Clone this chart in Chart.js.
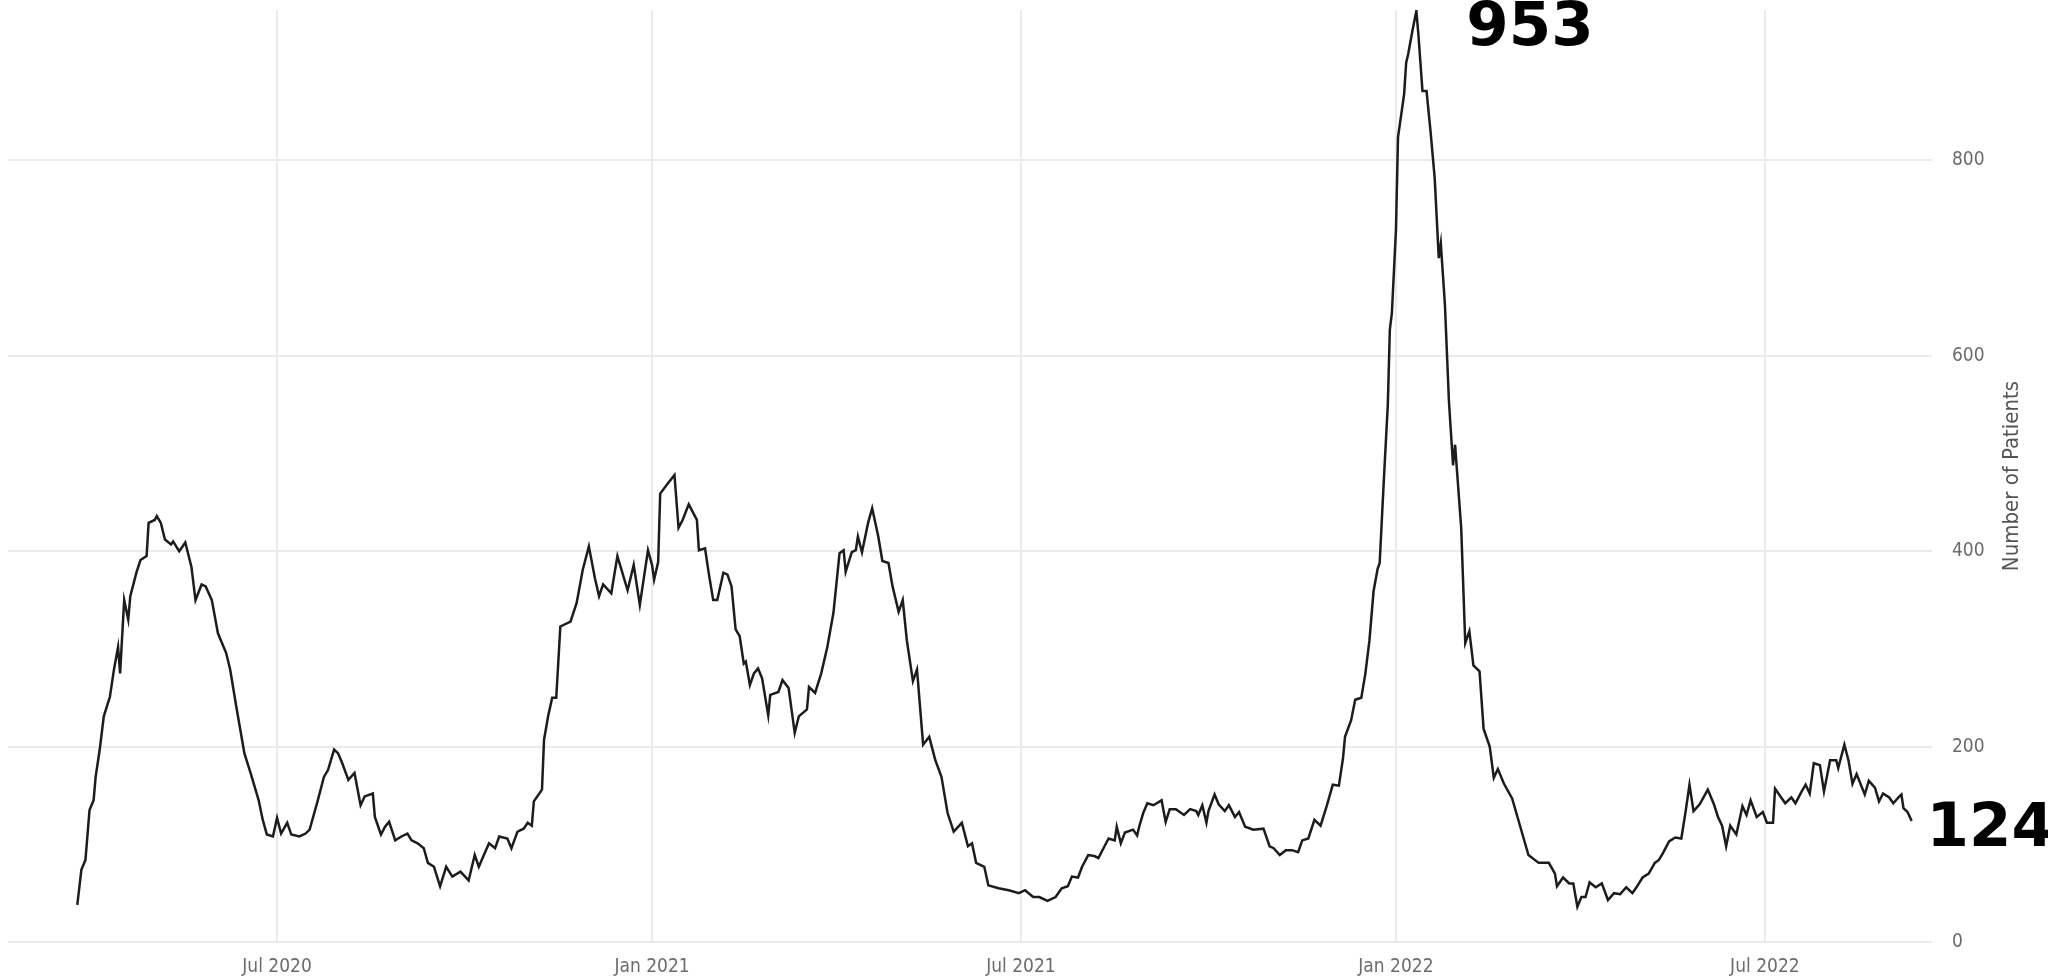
<!DOCTYPE html>
<html>
<head>
<meta charset="utf-8">
<title>Number of Patients</title>
<script src="https://cdn.jsdelivr.net/npm/chart.js@4.4.1/dist/chart.umd.min.js"></script>
<style>
    html, body { margin: 0; padding: 0; background: #ffffff; }
    #wrap { width: 2048px; height: 980px; }
</style>
</head>
<body>
<div id="wrap"><canvas id="patientsChart" width="2048" height="980"></canvas></div>
<script>
// Days counted from 1 Jul 2020
const days = [
    -98, -96, -94, -92, -90, -89, -87, -85, -82, -80, -78, -77, -75, -73, -72, -69, -67, -64, -63, -60,
    -59, -57, -55, -52, -51, -48, -45, -42, -40, -37, -35, -32, -29, -25, -23, -20, -18, -16, -13, -9,
    -7, -5, -2, 0, 2, 5, 7, 11, 14, 16, 20, 23, 25, 28, 30, 32, 35, 38, 41, 43,
    47, 48, 51, 53, 55, 58, 61, 64, 66, 69, 72, 74, 77, 80, 83, 86, 90, 94, 97, 99,
    104, 107, 109, 113, 115, 118, 121, 123, 125, 126, 130, 131, 133, 135, 137, 139, 144, 147, 150, 153,
    156, 158, 160, 164, 167, 172, 175, 178, 182, 184, 185, 187, 188, 192, 195, 197, 199, 202, 206, 207,
    210, 212, 214, 216, 219, 221, 223, 225, 227, 229, 230, 232, 234, 236, 238, 241, 242, 246, 248, 251,
    254, 256, 260, 261, 264, 267, 270, 273, 276, 278, 279, 282, 284, 285, 287, 290, 292, 295, 297, 300,
    302, 305, 307, 309, 312, 314, 317, 320, 323, 326, 329, 332, 336, 339, 341, 343, 347, 349, 354, 359,
    364, 367, 371, 374, 378, 382, 385, 388, 390, 393, 395, 398, 401, 403, 406, 408, 411, 412, 414, 416,
    420, 422, 423, 425, 427, 430, 434, 436, 438, 441, 445, 448, 451, 452, 454, 456, 457, 460, 462, 465,
    467, 470, 472, 475, 479, 484, 487, 489, 492, 495, 498, 501, 503, 506, 509, 512, 515, 518, 521, 523,
    524, 527, 529, 532, 534, 536, 538, 540, 541, 543, 545, 546, 547, 549, 550, 552, 553, 554, 555, 557,
    559, 560, 562, 564, 566, 568, 570, 571, 573, 575, 577, 578, 581, 583, 585, 587, 590, 592, 595, 597,
    599, 602, 606, 610, 614, 619, 624, 627, 628, 631, 634, 636, 638, 640, 642, 644, 647, 650, 653, 656,
    659, 662, 665, 667, 670, 673, 676, 678, 680, 683, 686, 689, 691, 693, 695, 698, 702, 705, 707, 709,
    711, 713, 716, 719, 721, 723, 726, 729, 731, 734, 735, 738, 740, 743, 745, 748, 750, 752, 754, 757,
    759, 762, 765, 766, 769, 771, 773, 775, 779, 781, 784, 786, 788, 791, 793, 796, 797, 798, 800, 802
];

const patients = [
    38, 74, 84, 135, 145, 169, 197, 231, 251, 279, 302, 275, 350, 330, 354, 378, 391, 395, 429, 432,
    436, 429, 412, 407, 410, 400, 409, 384, 350, 366, 364, 350, 316, 296, 279, 241, 217, 193, 173, 145,
    125, 110, 108, 127, 111, 122, 110, 108, 111, 115, 145, 169, 176, 197, 193, 183, 166, 173, 140, 149,
    152, 128, 110, 118, 123, 104, 108, 111, 104, 101, 96, 81, 77, 57, 77, 67, 72, 63, 89, 77,
    101, 96, 108, 106, 96, 113, 116, 122, 119, 144, 156, 207, 231, 250, 250, 323, 328, 347, 381, 405,
    372, 354, 366, 357, 395, 360, 386, 345, 401, 386, 371, 389, 459, 470, 478, 424, 432, 448, 432, 401,
    403, 375, 350, 350, 378, 376, 364, 320, 313, 285, 287, 263, 275, 280, 270, 232, 253, 256, 268, 260,
    214, 231, 238, 261, 255, 275, 302, 337, 398, 401, 379, 399, 401, 415, 399, 429, 444, 415, 390, 388,
    364, 338, 350, 309, 267, 279, 202, 210, 186, 169, 132, 113, 122, 98, 101, 81, 77, 58, 55, 53,
    50, 53, 46, 46, 42, 46, 55, 57, 67, 66, 77, 89, 88, 86, 98, 106, 104, 118, 101, 112,
    115, 109, 118, 132, 142, 140, 145, 123, 136, 136, 130, 136, 134, 130, 140, 122, 134, 151, 141, 134,
    140, 128, 133, 118, 115, 116, 98, 96, 89, 94, 94, 92, 104, 106, 125, 119, 139, 161, 160, 188,
    210, 227, 248, 250, 275, 309, 359, 382, 388, 471, 550, 627, 644, 729, 824, 853, 868, 900, 909, 932,
    953, 929, 871, 871, 829, 782, 700, 715, 653, 553, 488, 509, 424, 306, 318, 283, 277, 218, 200, 168,
    177, 162, 147, 118, 89, 81, 81, 70, 57, 66, 60, 60, 36, 46, 46, 61, 56, 60, 43, 50,
    49, 56, 50, 56, 66, 70, 81, 84, 91, 103, 107, 106, 132, 161, 134, 141, 156, 141, 128, 119,
    98, 119, 110, 139, 130, 145, 128, 133, 122, 122, 157, 148, 142, 148, 142, 154, 161, 152, 183, 181,
    154, 186, 186, 178, 202, 186, 162, 172, 151, 165, 158, 144, 152, 148, 142, 149, 151, 137, 133, 124
];

// X axis ticks (days from 1 Jul 2020) and their labels
const tickDays = [0, 184, 365, 549, 730];
const tickLabels = ['Jul 2020', 'Jan 2021', 'Jul 2021', 'Jan 2022', 'Jul 2022'];

const yTicks = [0, 200, 400, 600, 800];
const yTitle = 'Number of Patients';

const tickFont = { family: "'DejaVu Sans Condensed', 'DejaVu Sans', sans-serif", size: 19 };
const gridColor = '#ebebeb';

// Big value labels next to the peak and the last point, plus the rotated axis title
const valueLabels = {
    id: 'valueLabels',
    afterDraw(chart) {
        const ctx = chart.ctx;
        const xScale = chart.scales.x;
        const yScale = chart.scales.y;
        const area = chart.chartArea;

        let peakIdx = 0;
        patients.forEach((v, i) => { if (v > patients[peakIdx]) peakIdx = i; });
        const lastIdx = patients.length - 1;

        ctx.save();
        ctx.fillStyle = '#000000';
        ctx.font = "bold 61px 'DejaVu Sans', sans-serif";
        ctx.textAlign = 'left';
        ctx.textBaseline = 'middle';
        ctx.fillText(String(patients[peakIdx]),
            xScale.getPixelForValue(days[peakIdx]) + 50,
            yScale.getPixelForValue(patients[peakIdx]) + 18);
        ctx.fillText(String(patients[lastIdx]),
            xScale.getPixelForValue(days[lastIdx]) + 15,
            yScale.getPixelForValue(patients[lastIdx]) + 9);
        ctx.restore();

        // axis title, reading bottom to top
        ctx.save();
        ctx.translate(area.right + 80, (area.top + area.bottom) / 2);
        ctx.rotate(-Math.PI / 2);
        ctx.fillStyle = '#555555';
        ctx.font = "22px 'DejaVu Sans Condensed', 'DejaVu Sans', sans-serif";
        ctx.textAlign = 'center';
        ctx.textBaseline = 'middle';
        ctx.fillText(yTitle, 0, 0);
        ctx.restore();
    }
};

document.addEventListener('DOMContentLoaded', function() {
    const ctx = document.getElementById('patientsChart').getContext('2d');
    new Chart(ctx, {
        type: 'line',
        data: {
            datasets: [{
                data: days.map((d, i) => ({ x: d, y: patients[i] })),
                borderColor: '#1c1c1c',
                borderWidth: 2.5,
                pointRadius: 0,
                tension: 0,
                fill: false
            }]
        },
        options: {
            responsive: false,
            animation: false,
            devicePixelRatio: 1,
            layout: { padding: { left: 8, top: 10, right: 0, bottom: 0 } },
            plugins: {
                legend: { display: false },
                tooltip: { enabled: false }
            },
            scales: {
                x: {
                    type: 'linear',
                    min: -132,
                    max: 812,
                    afterBuildTicks: function(scale) {
                        scale.ticks = tickDays.map(v => ({ value: v }));
                    },
                    afterFit: function(scale) {
                        scale.height = 38;
                        scale.paddingLeft = 0;
                        scale.paddingRight = 0;
                    },
                    grid: { color: gridColor, lineWidth: 2, drawTicks: false },
                    border: { display: false },
                    ticks: {
                        color: '#6b6b6b',
                        font: tickFont,
                        padding: 14,
                        maxRotation: 0,
                        callback: function(value) {
                            const i = tickDays.indexOf(value);
                            return i >= 0 ? tickLabels[i] : '';
                        }
                    }
                },
                y: {
                    position: 'right',
                    min: 0,
                    max: 954,
                    afterBuildTicks: function(scale) {
                        scale.ticks = yTicks.map(v => ({ value: v }));
                    },
                    afterFit: function(scale) {
                        scale.width = 116;
                        scale.paddingTop = 0;
                        scale.paddingBottom = 0;
                    },
                    grid: { color: gridColor, lineWidth: 2, drawTicks: false },
                    border: { display: false },
                    ticks: {
                        color: '#6b6b6b',
                        font: tickFont,
                        padding: 20
                    }
                }
            }
        },
        plugins: [valueLabels]
    });
});
</script>
</body>
</html>
